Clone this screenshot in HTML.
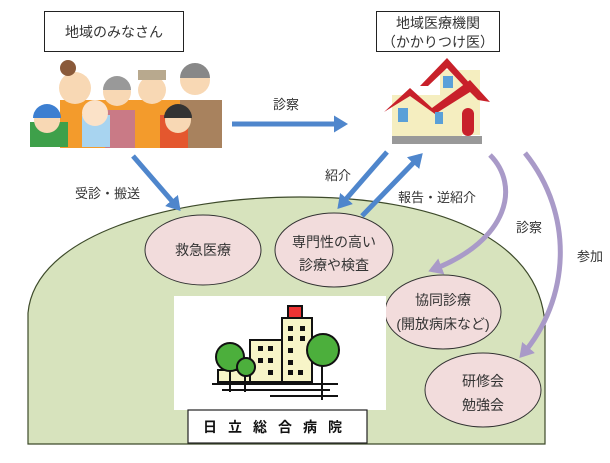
<!DOCTYPE html>
<html><head><meta charset="utf-8"><style>
body{margin:0;width:610px;height:458px;background:#fff;overflow:hidden;font-family:"Liberation Sans","Noto Sans CJK JP",sans-serif;}
svg text{font-family:"Liberation Sans","Noto Sans CJK JP",sans-serif;fill:#333;}
</style></head><body>
<svg width="610" height="458" viewBox="0 0 610 458" xmlns="http://www.w3.org/2000/svg">
<defs>
<marker id="ab" markerWidth="4" markerHeight="4" refX="2" refY="2" orient="auto" markerUnits="strokeWidth"><path d="M0,0.3 L2.8,2 L0,3.7 Z" fill="#4f86cc"/></marker>
<marker id="ap" markerWidth="4" markerHeight="4" refX="2" refY="2" orient="auto" markerUnits="strokeWidth"><path d="M0,0.3 L2.8,2 L0,3.7 Z" fill="#a99ac8"/></marker>
</defs>
<!-- green area -->
<path d="M28,444 V313 C35,235 170,197 300,197 C430,197 540,235 545,325 V444 Z" fill="#d7e3bd" stroke="#3d4a2a" stroke-width="1.2"/>
<!-- ellipses -->
<g fill="#f2dcdc" stroke="#333" stroke-width="1">
<ellipse cx="203" cy="250" rx="58" ry="35"/>
<ellipse cx="334" cy="250" rx="59" ry="37"/>
<ellipse cx="443" cy="312" rx="58" ry="37"/>
<ellipse cx="483" cy="390" rx="58" ry="37"/>
</g>
<g font-size="14" text-anchor="middle">
<text x="203" y="255">救急医療</text>
<text x="334" y="247">専門性の高い</text>
<text x="334" y="270">診療や検査</text>
<text x="443" y="305">協同診療</text>
<text x="443" y="329">(開放病床など)</text>
<text x="483" y="386">研修会</text>
<text x="483" y="410">勉強会</text>
</g>
<!-- hospital -->
<rect x="174" y="296" width="212" height="114" fill="#fff"/>
<rect x="188" y="410" width="179" height="33" fill="#fff" stroke="#222" stroke-width="1.2"/>
<text x="278" y="432" font-size="14" font-weight="bold" text-anchor="middle" letter-spacing="11" style="fill:#111">日立総合病院</text>
<g stroke="#111" stroke-width="2">
<rect x="282" y="318" width="30" height="64" fill="#f7f5c8"/>
<rect x="250" y="340" width="32" height="42" fill="#f7f5c8"/>
<rect x="218" y="370" width="32" height="12" fill="#f7f5c8"/>
<rect x="288" y="306" width="14" height="12" fill="#e33"/>
<line x1="222" y1="390" x2="330" y2="390"/>
<line x1="270" y1="396" x2="338" y2="396"/>
<line x1="212" y1="384" x2="338" y2="384"/>
</g>
<g fill="#111">
<rect x="258" y="346" width="5" height="5"/><rect x="268" y="346" width="5" height="5"/><rect x="288" y="326" width="5" height="5"/><rect x="300" y="326" width="5" height="5"/>
<rect x="288" y="336" width="5" height="5"/><rect x="300" y="336" width="5" height="5"/>
<rect x="258" y="358" width="5" height="5"/><rect x="268" y="358" width="5" height="5"/><rect x="288" y="348" width="5" height="5"/><rect x="288" y="360" width="5" height="5"/>
<rect x="268" y="370" width="5" height="5"/><rect x="288" y="370" width="5" height="5"/><rect x="298" y="370" width="5" height="5"/>
</g>
<g stroke="#111" stroke-width="2" fill="#4caf3c">
<line x1="230" y1="370" x2="230" y2="392"/><line x1="245" y1="370" x2="245" y2="392"/><line x1="322" y1="360" x2="322" y2="400"/>
<circle cx="230" cy="357" r="14"/><circle cx="246" cy="367" r="9"/><circle cx="323" cy="350" r="16"/>
</g>
<!-- boxes -->
<rect x="44.5" y="11.5" width="139" height="40" fill="#fff" stroke="#222"/>
<text x="114" y="37" font-size="14" text-anchor="middle">地域のみなさん</text>
<rect x="376.5" y="11.5" width="123" height="40" fill="#fff" stroke="#222"/>
<text x="438" y="28" font-size="14" text-anchor="middle">地域医療機関</text>
<text x="438" y="47" font-size="14" text-anchor="middle">（かかりつけ医）</text>
<!-- people -->
<g>
<rect x="60" y="100" width="162" height="48" fill="#f39b2c"/>
<rect x="180" y="100" width="42" height="48" fill="#a8825e"/>
<rect x="105" y="110" width="30" height="38" fill="#c97a86"/>
<rect x="30" y="122" width="38" height="25" fill="#3ea04a"/>
<rect x="82" y="115" width="28" height="32" fill="#a8d4f0"/>
<rect x="160" y="115" width="28" height="33" fill="#e4572e"/>
<circle cx="195" cy="80" r="15" fill="#f8d8b4"/><path d="M180,78 a15,15 0 0 1 30,0 z" fill="#888"/>
<circle cx="152" cy="90" r="14" fill="#f8d8b4"/><rect x="138" y="70" width="28" height="10" fill="#b8a98e"/>
<circle cx="117" cy="92" r="14" fill="#f8d8b4"/><path d="M103,90 a14,14 0 0 1 28,0 z" fill="#999"/>
<circle cx="75" cy="88" r="16" fill="#f8d8b4"/><circle cx="68" cy="68" r="8" fill="#8a5a3a"/>
<circle cx="95" cy="113" r="13" fill="#fbe2c8"/>
<circle cx="47" cy="120" r="13" fill="#f8d8b4"/><path d="M33,118 a14,14 0 0 1 28,0 z" fill="#3d7fd1"/>
<circle cx="178" cy="120" r="13" fill="#f8d8b4"/><path d="M164,118 a14,14 0 0 1 28,0 z" fill="#333"/>
</g>
<!-- house -->
<g>
<rect x="392" y="95" width="70" height="42" fill="#f5eec0"/>
<rect x="440" y="70" width="40" height="65" fill="#f5eec0"/>
<path d="M384,112 L410,88 L432,108 L470,80 L490,102 L478,100 L470,92 L435,114 L410,96 Z" fill="#c8202a"/>
<path d="M420,86 L447,58 L472,86 L464,86 L447,68 L428,86 Z" fill="#c8202a"/>
<rect x="392" y="136" width="90" height="8" fill="#999"/>
<rect x="462" y="108" width="12" height="28" rx="6" fill="#c8202a"/>
<rect x="398" y="108" width="10" height="14" fill="#5aa0d8"/><rect x="435" y="112" width="8" height="12" fill="#5aa0d8"/><rect x="443" y="76" width="10" height="12" fill="#5aa0d8"/>
</g>
<!-- blue arrows -->
<g stroke="#4f86cc" stroke-width="5" fill="none">
<line x1="133" y1="156" x2="178" y2="208" marker-end="url(#ab)"/>
<line x1="232" y1="124" x2="344" y2="124" marker-end="url(#ab)"/>
<line x1="387" y1="152" x2="340" y2="206" marker-end="url(#ab)"/>
<line x1="362" y1="216" x2="420" y2="156" marker-end="url(#ab)"/>
</g>
<!-- purple arcs -->
<g stroke="#a99ac8" stroke-width="5" fill="none">
<path d="M490,155 C520,185 510,240 432,270" marker-end="url(#ap)"/>
<path d="M525,153 C575,215 570,300 522,355" marker-end="url(#ap)"/>
</g>
<g font-size="13">
<text x="273" y="109">診察</text>
<text x="75" y="198">受診・搬送</text>
<text x="325" y="180">紹介</text>
<text x="398" y="202">報告・逆紹介</text>
<text x="516" y="232">診察</text>
<text x="577" y="261">参加</text>
</g>
</svg>
</body></html>
